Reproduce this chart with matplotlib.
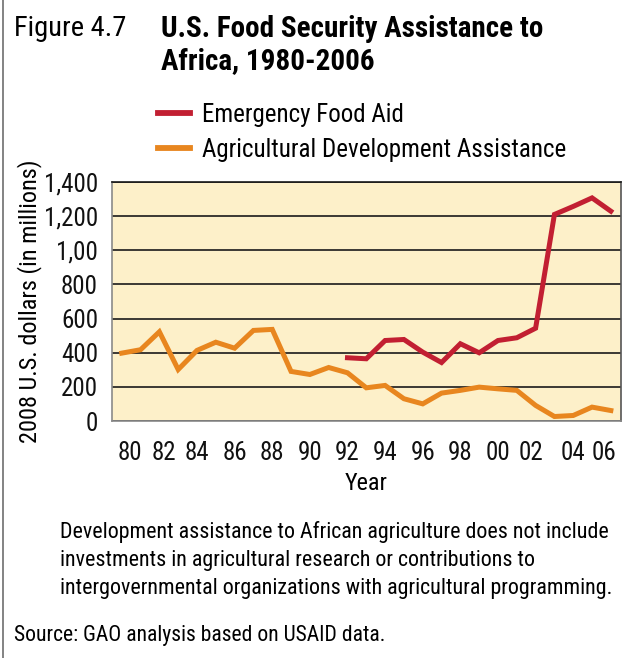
import matplotlib
matplotlib.use("Agg")
import matplotlib.pyplot as plt
from matplotlib import font_manager
from matplotlib.lines import Line2D

# pick a narrow sans if one is there, the original uses a condensed face
narrow = "DejaVu Sans"
for name in ["Liberation Sans Narrow", "Roboto Condensed", "DejaVu Sans Condensed", "Liberation Sans"]:
    try:
        font_manager.findfont(name, fallback_to_default=False)
        narrow = name
        break
    except Exception:
        pass
plt.rcParams['font.family'] = [narrow, 'DejaVu Sans']

# data (millions of 2008 US dollars)
years = list(range(1980, 2007))
agri_dev = [398, 418, 523, 302, 414, 462, 427, 531, 537, 291, 273, 314, 283,
            195, 209, 131, 101, 164, 180, 199, 189, 180, 92, 27, 33, 82, 62]
food_years = list(range(1992, 2007))
food_aid = [371, 365, 472, 478, 404, 343, 453, 400, 472, 488, 544,
            1210, 1257, 1307, 1229]

y_ticks = [0, 200, 400, 600, 800, 1000, 1200, 1400]
y_labels = ["0", "200", "400", "600", "800", "1,00", "1,200", "1,400"]
x_ticks = list(range(1980, 2007, 2))
x_labels = ["80", "82", "84", "86", "88", "90", "92", "94", "96", "98", "00", "02", "04", "06"]
# the printed labels sit a little off the even years
x_shift = {1980: 0.45, 1982: 0.25, 2002: -0.25, 2006: -0.35}

red = "#c21f32"
orange = "#e8861f"
paper = "#fdf0c9"

fig = plt.figure(figsize=(6.29, 6.58), dpi=100)
ax = fig.add_axes([0.178, 0.360, 0.809, 0.3634])
ax.set_facecolor(paper)

ax.plot(years, agri_dev, color=orange, lw=3.6, solid_joinstyle='miter', zorder=3)
ax.plot(food_years, food_aid, color=red, lw=3.6, solid_joinstyle='miter', zorder=3)

ax.set_xlim(1979.48, 2006.53)
ax.set_ylim(0, 1400)
ax.set_yticks(y_ticks)
ax.set_yticklabels(y_labels)
ax.set_xticks([t + x_shift.get(t, 0) for t in x_ticks])
ax.set_xticklabels(x_labels)
ax.tick_params(axis='both', length=0, labelsize=18, colors='#111111')
ax.tick_params(axis='y', pad=10)
ax.tick_params(axis='x', pad=14)
ax.yaxis.grid(True, color='#1a1a1a', lw=1.2)
ax.set_axisbelow(True)
for s in ['left', 'bottom']:
    ax.spines[s].set_color('#8a8a8a')
ax.spines['right'].set_color('#555555')
ax.spines['top'].set_color('#1a1a1a')
for s in ax.spines.values():
    s.set_linewidth(1.2)

ax.set_xlabel("Year", fontsize=17.5, labelpad=5)
ax.set_ylabel("2008 U.S. dollars (in millions)", fontsize=17.5, labelpad=1)

# titles
fig.text(14 / 629, 1 - 28 / 658, "Figure 4.7", fontsize=20.5, va='center', ha='left')
fig.text(161 / 629, 1 - 45 / 658, "U.S. Food Security Assistance to\nAfrica, 1980-2006",
         fontsize=21, fontweight='bold', va='center', ha='left', linespacing=1.2)

handles = [Line2D([], [], color=red, lw=4.2), Line2D([], [], color=orange, lw=4.2)]
ax.legend(handles, ["Emergency Food Aid", "Agricultural Development Assistance"],
          loc='upper left', bbox_to_anchor=(158 / 629, 1 - 103 / 658),
          bbox_transform=fig.transFigure, frameon=False, fontsize=18,
          handlelength=1.3, handletextpad=0.45, labelspacing=0.42,
          borderpad=0, borderaxespad=0)

fig.text(60 / 629, 1 - 560 / 658,
         "Development assistance to African agriculture does not include\n"
         "investments in agricultural research or contributions to\n"
         "intergovernmental organizations with agricultural programming.",
         fontsize=15.8, va='center', ha='left', linespacing=1.42)
fig.text(14 / 629, 1 - 636 / 658, "Source: GAO analysis based on USAID data.",
         fontsize=15.6, va='center', ha='left')

# thin frame line down the left side
fig.add_artist(Line2D([3 / 629, 3 / 629], [0, 1], color='#7a7a7a', lw=1.3,
                      transform=fig.transFigure))

fig.savefig("out.png", dpi=100, facecolor='white')
